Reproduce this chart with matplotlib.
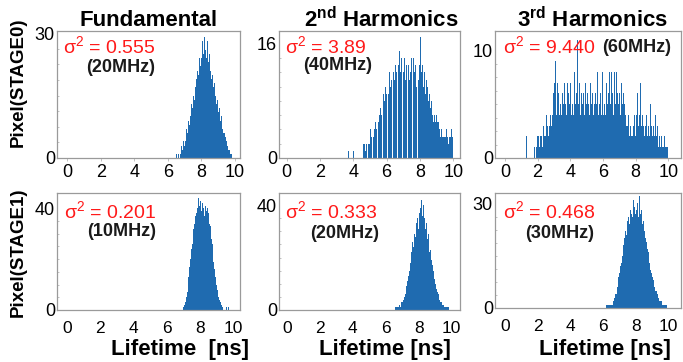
import numpy as np
import matplotlib.pyplot as plt

plt.rcParams['font.family'] = ['Liberation Sans', 'DejaVu Sans']
plt.rcParams['mathtext.fontset'] = 'custom'
plt.rcParams['mathtext.rm'] = 'Liberation Sans'
plt.rcParams['mathtext.bf'] = 'Liberation Sans:bold'

# histogram bin width (ns)
BIN = 0.05

# STAGE0 row (counts per 0.05 ns bin, starting at *_start)
fund0_start = 6.50
fund0_counts = [1, 0, 1, 0, 2, 1, 3, 2, 4, 3,
                5, 4, 7, 6, 9, 8, 11, 10, 13, 12,
                15, 14, 17, 16, 19, 21, 20, 24, 22, 26,
                24, 28, 25, 29, 26, 27, 24, 28, 23, 25,
                21, 23, 19, 20, 17, 18, 15, 16, 13, 14,
                11, 12, 9, 10, 8, 7, 6, 6, 5, 4,
                4, 3, 2, 2, 1, 1, 1]

harm2_0_start = 3.50
harm2_0_counts = [0, 0, 0, 0, 1, 0, 0, 0, 0, 0,
                  1, 0, 0, 0, 0, 0, 0, 0, 0, 0,
                  0, 0, 2, 2, 1, 2, 2, 2, 2, 2,
                  4, 3, 4, 4, 3, 4, 5, 4, 4, 6,
                  5, 6, 7, 6, 8, 7, 9, 8, 10, 9,
                  8, 11, 9, 12, 10, 11, 13, 10, 12, 11,
                  13, 12, 14, 11, 13, 15, 12, 14, 13, 15,
                  12, 14, 11, 13, 12, 10, 13, 11, 12, 14,
                  13, 11, 14, 12, 13, 10, 12, 15, 11, 13,
                  17, 12, 13, 11, 10, 12, 9, 11, 8, 10,
                  8, 9, 7, 8, 6, 7, 5, 6, 5, 6,
                  5, 4, 5, 4, 3, 4, 3, 4, 3, 3,
                  3, 4, 3, 3, 2, 3, 3, 4, 3, 3]

harm3_0_start = 1.00
harm3_0_counts = [0, 0, 0, 0, 0, 0, 2, 0, 0, 0,
                  0, 0, 0, 0, 0, 0, 1, 0, 1, 2,
                  1, 2, 1, 2, 2, 1, 2, 3, 2, 2,
                  4, 2, 3, 2, 3, 4, 3, 5, 4, 6,
                  7, 9, 5, 4, 7, 6, 4, 7, 5, 4,
                  6, 5, 7, 4, 5, 4, 7, 6, 4, 5,
                  7, 4, 5, 4, 7, 8, 5, 6, 11, 7,
                  5, 7, 4, 6, 5, 4, 6, 4, 7, 5,
                  4, 6, 5, 4, 7, 5, 4, 6, 4, 5,
                  6, 4, 5, 8, 4, 5, 4, 6, 4, 8,
                  4, 5, 6, 4, 7, 5, 6, 4, 8, 5,
                  8, 6, 4, 7, 8, 5, 8, 6, 7, 5,
                  6, 4, 7, 5, 4, 6, 5, 4, 3, 4,
                  3, 4, 2, 3, 2, 3, 2, 3, 4, 2,
                  3, 4, 6, 3, 4, 7, 5, 3, 4, 3,
                  2, 5, 3, 4, 2, 3, 4, 2, 5, 3,
                  2, 3, 2, 2, 4, 2, 3, 2, 1, 2,
                  1, 2, 1, 1, 1, 2, 1, 1, 1, 1]

# STAGE1 row
fund1_start = 7.00
fund1_counts = [1, 2, 3, 5, 7, 10, 13, 17, 20, 24,
                26, 29, 32, 34, 37, 38, 40, 42, 44, 41,
                43, 39, 42, 38, 40, 37, 41, 39, 40, 36,
                38, 34, 33, 28, 26, 22, 19, 16, 13, 10,
                8, 6, 5, 4, 3, 2, 1, 1, 0, 0,
                0, 1, 0, 1, 1, 0]

harm2_1_start = 6.50
harm2_1_counts = [0, 1, 0, 1, 1, 1, 2, 1, 2, 3,
                  3, 4, 5, 6, 8, 9, 11, 13, 15, 18,
                  21, 22, 26, 24, 29, 30, 28, 33, 35, 31,
                  37, 34, 39, 42, 36, 40, 35, 37, 31, 33,
                  27, 29, 24, 22, 23, 19, 17, 15, 13, 12,
                  10, 8, 7, 6, 5, 4, 3, 3, 2, 2,
                  2, 1, 1, 1, 1, 0, 1]

harm3_1_start = 6.00
harm3_1_counts = [0, 0, 0, 0, 1, 1, 1, 1, 1, 1,
                  1, 1, 2, 2, 3, 4, 4, 6, 7, 9,
                  10, 12, 13, 15, 16, 18, 20, 22, 21, 24,
                  25, 26, 24, 28, 27, 30, 26, 31, 29, 27,
                  32, 28, 30, 26, 32, 27, 25, 28, 24, 25,
                  22, 23, 20, 19, 17, 16, 14, 13, 11, 10,
                  9, 8, 7, 6, 5, 5, 4, 3, 3, 2,
                  2, 2, 1, 2, 1, 1, 1, 1]

titles = ['Fundamental', r'2$^{\bf nd}$ Harmonics', r'3$^{\bf rd}$ Harmonics']
row_labels = ['Pixel(STAGE0)', 'Pixel(STAGE1)']
variances = ['0.555', '3.89', '9.440', '0.201', '0.333', '0.468']
freqs = ['(20MHz)', '(40MHz)', '(60MHz)', '(10MHz)', '(20MHz)', '(30MHz)']
y_max_tick = [30, 16, 10, 40, 40, 30]
xticks = [0, 2, 4, 6, 8, 10]

W, H = 683, 362
fig = plt.figure(figsize=(W / 100, H / 100), dpi=100)


def px_rect(x0, y0, x1, y1):
    return [x0 / W, 1 - y1 / H, (x1 - x0) / W, (y1 - y0) / H]


def ftext(x, y, s, **kw):
    fig.text(x / W, 1 - y / H, s, **kw)


panels = [
    (fund0_start, fund0_counts, px_rect(57, 31, 240, 158), (-0.6, 10.3), 30.5),
    (harm2_0_start, harm2_0_counts, px_rect(279, 31, 460, 158), (-0.46, 10.4), 17.8),
    (harm3_0_start, harm3_0_counts, px_rect(495, 31, 681, 158), (-0.61, 10.78), 11.8),
    (fund1_start, fund1_counts, px_rect(57, 193, 240, 310), (-0.6, 10.4), 46),
    (harm2_1_start, harm2_1_counts, px_rect(279, 193, 460, 310), (-0.47, 10.5), 44.6),
    (harm3_1_start, harm3_1_counts, px_rect(495, 193, 681, 308), (-0.61, 10.78), 33),
]

for i, (start, counts, rect, xl, ytop) in enumerate(panels):
    ax = fig.add_axes(rect)
    lefts = start + BIN * np.arange(len(counts))
    ax.bar(lefts, counts, width=BIN, align='edge', color='#1f6bb0',
           edgecolor='none', linewidth=0)
    ax.set_xlim(*xl)
    ax.set_ylim(0, ytop)
    ax.set_yticks([0, y_max_tick[i]])
    ax.set_yticks(np.linspace(0, y_max_tick[i], 9), minor=True)
    ax.set_xticks(xticks)
    for sp in ax.spines.values():
        sp.set_color('#9a9a9a')
        sp.set_linewidth(0.9)
    ax.tick_params(axis='y', which='major', length=0, pad=1.5, labelsize=13)
    ax.tick_params(axis='y', which='minor', direction='in', length=1.5,
                   color='#aaaaaa', width=0.5)
    if i < 3:
        ax.tick_params(axis='x', length=2, width=0.5, color='#aaaaaa',
                       pad=2, labelsize=13)
    else:
        ax.tick_params(axis='x', length=0, pad=8, labelsize=12.5)

# titles
ftext(149, 20, titles[0], ha='center', va='center', fontsize=16, fontweight='bold')
ftext(381, 20, titles[1], ha='center', va='center', fontsize=16, fontweight='bold')
ftext(592, 20, titles[2], ha='center', va='center', fontsize=16, fontweight='bold')

# row labels
ftext(18, 82, row_labels[0], ha='center', va='center', rotation=90,
      fontsize=13.5, fontweight='bold')
ftext(18, 252, row_labels[1], ha='center', va='center', rotation=90,
      fontsize=13.5, fontweight='bold')

# x labels
ftext(180, 350, 'Lifetime  [ns]', ha='center', va='center', fontsize=16, fontweight='bold')
ftext(385, 350, 'Lifetime [ns]', ha='center', va='center', fontsize=16, fontweight='bold')
ftext(605, 350, 'Lifetime [ns]', ha='center', va='center', fontsize=16, fontweight='bold')

# variance / frequency annotations
sig_pos = [(63, 47), (285, 47), (503, 47), (64, 212), (285, 212), (503, 212)]
freq_pos = [(86, 67), (303, 66), (602, 47), (87, 232), (310, 233), (525, 233)]
for i in range(6):
    ftext(sig_pos[i][0], sig_pos[i][1], 'σ$^{2}$ = ' + variances[i],
          ha='left', va='center', fontsize=14, color='#ff1a1a')
    ftext(freq_pos[i][0], freq_pos[i][1], freqs[i],
          ha='left', va='center', fontsize=13, fontweight='bold', color='#1a1a1a')

fig.savefig('out.png', dpi=100)
